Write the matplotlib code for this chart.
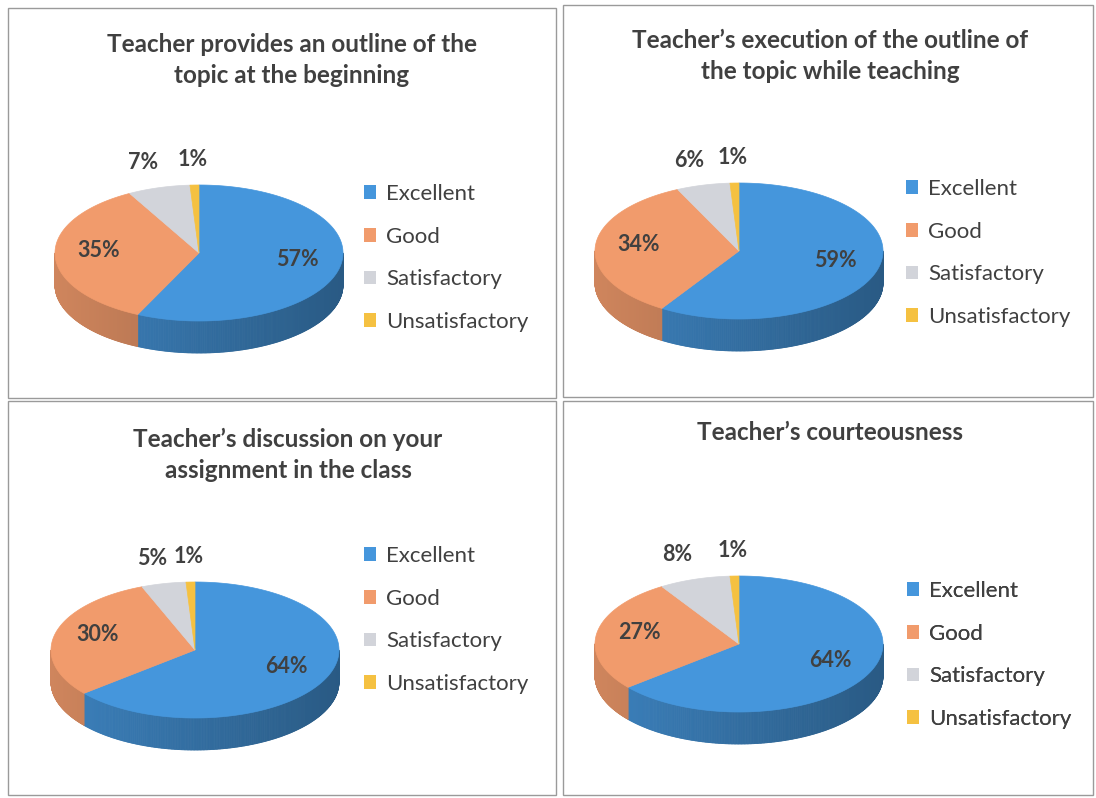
import numpy as np
import matplotlib.pyplot as plt
from matplotlib.patches import Polygon, Rectangle, Patch
from matplotlib.collections import PolyCollection

plt.rcParams['font.family'] = ['Lato', 'DejaVu Sans']

# ---------------- data ----------------
categories = ["Excellent", "Good", "Satisfactory", "Unsatisfactory"]
titles = [
    "Teacher provides an outline of the\ntopic at the beginning",
    "Teacher\u2019s execution of the outline of\nthe topic while teaching",
    "Teacher\u2019s discussion on your\nassignment in the class",
    "Teacher\u2019s courteousness",
]
values_outline = [57, 35, 7, 1]
values_execution = [59, 34, 6, 1]
values_discussion = [64, 30, 5, 1]
values_courtesy = [64, 27, 8, 1]

colors_top = ["#4596dc", "#f19b6c", "#d2d4da", "#f5c141"]
text_color = "#404040"

# ---------------- layout (pixels) ----------------
panels = [
    dict(vals=values_outline, box=(8, 8, 556, 398), cx=199, cy=253,
         title_xy=(292, 60), leg_xy=(364, 258)),
    dict(vals=values_execution, box=(563, 5, 1093, 397), cx=739, cy=251,
         title_xy=(830, 56), leg_xy=(906, 253)),
    dict(vals=values_discussion, box=(8, 401, 556, 795), cx=195, cy=650,
         title_xy=(288, 455), leg_xy=(364, 620)),
    dict(vals=values_courtesy, box=(563, 401, 1093, 795), cx=739, cy=644,
         title_xy=(830, 432), leg_xy=(907, 655)),
]
RX, RY, DEPTH = 144, 68, 32

fig = plt.figure(figsize=(10.96, 7.98), dpi=100)
ax = fig.add_axes([0, 0, 1, 1])
ax.set_xlim(0, 1096)
ax.set_ylim(798, 0)
ax.axis('off')


def shade(c, f):
    r, g, b = [int(c[i:i + 2], 16) / 255 for i in (1, 3, 5)]
    return (r * f, g * f, b * f)


def draw_pie3d(ax, vals, cx, cy, rx, ry, depth):
    total = float(sum(vals))
    cum = np.cumsum([0] + list(vals)) / total
    # side walls
    polys, cols = [], []
    for i, v in enumerate(vals):
        a0 = np.deg2rad(90 - 360 * cum[i])
        a1 = np.deg2rad(90 - 360 * cum[i + 1])
        th = np.linspace(a1, a0, 400)
        for k in range(len(th) - 1):
            t0, t1 = th[k], th[k + 1]
            if np.sin((t0 + t1) / 2) >= 0:
                continue
            x0, x1 = cx + rx * np.cos(t0), cx + rx * np.cos(t1)
            y0, y1 = cy - ry * np.sin(t0), cy - ry * np.sin(t1)
            polys.append([(x0, y0), (x1, y1), (x1, y1 + depth), (x0, y0 + depth)])
            f = 0.86 - 0.26 * (np.cos((t0 + t1) / 2) + 1) / 2
            cols.append(shade(colors_top[i], f))
    pc = PolyCollection(polys, facecolors=cols, edgecolors=cols, linewidths=0.6)
    ax.add_collection(pc)
    # top faces
    for i, v in enumerate(vals):
        a0 = np.deg2rad(90 - 360 * cum[i])
        a1 = np.deg2rad(90 - 360 * cum[i + 1])
        th = np.linspace(a0, a1, 200)
        pts = [(cx, cy)] + [(cx + rx * np.cos(t), cy - ry * np.sin(t)) for t in th]
        ax.add_patch(Polygon(pts, closed=True, facecolor=colors_top[i],
                             edgecolor=colors_top[i], linewidth=0.5))
    # labels
    for i, v in enumerate(vals):
        mid = np.deg2rad(90 - 360 * (cum[i] + cum[i + 1]) / 2)
        frac = v / total
        if frac >= 0.15:
            r, dy = 0.70, -4
        else:
            r, dy = 1.38, 0
        x = cx + r * rx * np.cos(mid)
        y = cy - r * ry * np.sin(mid) + dy
        ax.text(x, y, f"{v}%", ha='center', va='center', fontsize=15.5,
                fontweight='bold', color=text_color)


for p in panels:
    x0, y0, x1, y1 = p['box']
    ax.add_patch(Rectangle((x0, y0), x1 - x0, y1 - y0, fill=False,
                           edgecolor='#9a9a9a', linewidth=1.0))

for p, title in zip(panels, titles):
    draw_pie3d(ax, p['vals'], p['cx'], p['cy'], RX, RY, DEPTH)
    ax.text(p['title_xy'][0], p['title_xy'][1], title, ha='center', va='center',
            multialignment='center', fontsize=17.5, fontweight='bold',
            color=text_color, linespacing=1.45)
    handles = [Patch(facecolor=c, edgecolor='none') for c in colors_top]
    leg = ax.legend(handles, categories, loc='center left',
                    bbox_to_anchor=p['leg_xy'], bbox_transform=ax.transData,
                    frameon=False, fontsize=16, labelcolor=text_color,
                    handlelength=0.55, handleheight=0.55, handletextpad=0.45,
                    labelspacing=1.02, borderpad=0, borderaxespad=0)
    ax.add_artist(leg)

fig.savefig('out.png', dpi=100, facecolor='white')
